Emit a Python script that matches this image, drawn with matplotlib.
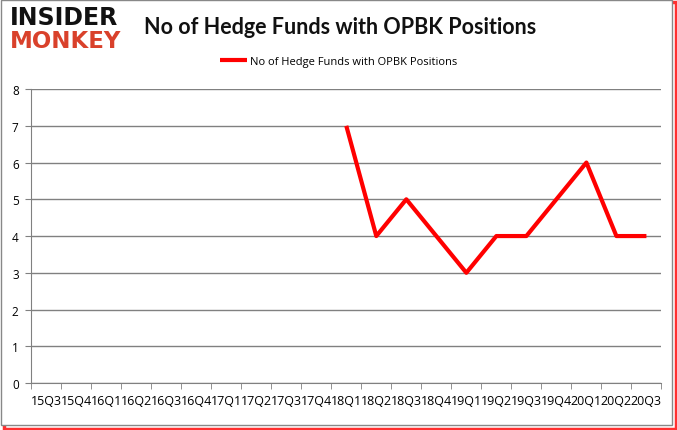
import matplotlib.pyplot as plt
from matplotlib.patches import Rectangle
import numpy as np

quarters = ["15Q3", "15Q4", "16Q1", "16Q2", "16Q3", "16Q4", "17Q1", "17Q2", "17Q3", "17Q4",
            "18Q1", "18Q2", "18Q3", "18Q4", "19Q1", "19Q2", "19Q3", "19Q4", "20Q1", "20Q2", "20Q3"]
# no data before 18Q1
funds = [None] * 10 + [7, 4, 5, 4, 3, 4, 4, 5, 6, 4, 4]
label = "No of Hedge Funds with OPBK Positions"

x = np.arange(len(quarters))
y = np.array([np.nan if v is None else v for v in funds], dtype=float)

fig = plt.figure(figsize=(6.77, 4.31), dpi=100)
ax = fig.add_axes([0.046, 0.109, 0.931, 0.682])

ax.plot(x, y, color="#ff0000", lw=3, label=label, solid_capstyle="butt")

ax.set_xlim(-0.5, len(quarters) - 0.5)
ax.set_ylim(0, 8)
ax.set_yticks(range(0, 9))
ax.yaxis.grid(True, color="#808080", lw=1)
ax.set_axisbelow(True)

ax.set_xticks(x)
ax.set_xticklabels(quarters, fontsize=9, family="Open Sans")
ax.set_xticks(np.arange(-0.5, len(quarters)), minor=True)
ax.tick_params(axis="x", which="major", length=0, pad=8)
ax.tick_params(axis="x", which="minor", length=4, color="#808080")
ax.tick_params(axis="y", length=4, color="#808080", labelsize=8.5, pad=5)
for t in ax.get_yticklabels():
    t.set_family("Open Sans")

for s in ["top", "right"]:
    ax.spines[s].set_visible(False)
for s in ["left", "bottom"]:
    ax.spines[s].set_color("#808080")

fig.text(0.503, 0.937, label, ha="center", va="center", fontsize=15.5,
         family="Lato", weight="bold", color="#111111")
fig.text(0.015, 0.958, "INSIDER", ha="left", va="center", fontsize=17,
         family="DejaVu Sans", weight="bold", color="#111111")
fig.text(0.015, 0.903, "MONKEY", ha="left", va="center", fontsize=16.5,
         family="DejaVu Sans", weight="bold", color="#d9412b")

leg = fig.legend(loc="center", bbox_to_anchor=(0.5, 0.855), frameon=False,
                 prop={"family": "Open Sans", "size": 8}, handlelength=2.4, handletextpad=0.3)

# border with red shadow
fig.patches.append(Rectangle((0.006, 0.003), 0.992, 0.99, transform=fig.transFigure,
                             facecolor="none", edgecolor="#ff3030", lw=2.5, zorder=0))
fig.patches.append(Rectangle((0.002, 0.012), 0.99, 0.985, transform=fig.transFigure,
                             facecolor="white", edgecolor="#888888", lw=1, zorder=1))
ax.set_zorder(2)

plt.savefig("out.png", dpi=100)
